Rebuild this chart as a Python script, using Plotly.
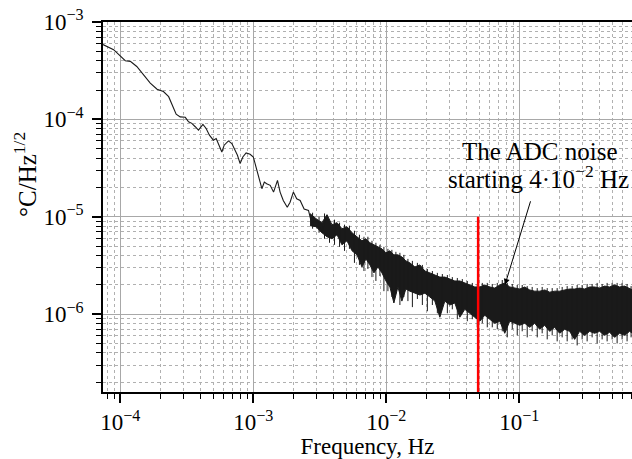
import math
import plotly.graph_objects as go

# Low-frequency part of the spectrum (single trace)
line_f = [7.41e-5, 8.91e-5, 1.09e-4, 1.19e-4, 1.33e-4, 1.50e-4, 1.68e-4, 1.89e-4, 2.11e-4, 2.31e-4,
          2.44e-4, 2.63e-4, 2.82e-4, 3.08e-4, 3.26e-4, 3.45e-4, 3.66e-4, 3.87e-4, 4.18e-4, 4.42e-4,
          4.68e-4, 5.01e-4, 5.26e-4, 5.56e-4, 5.80e-4, 6.04e-4, 6.50e-4, 6.90e-4, 7.30e-4, 7.60e-4,
          7.96e-4, 8.34e-4, 8.83e-4, 9.46e-4, 1.00e-3, 1.06e-3, 1.12e-3, 1.16e-3, 1.21e-3, 1.26e-3,
          1.34e-3, 1.42e-3, 1.52e-3, 1.59e-3, 1.68e-3, 1.80e-3, 1.89e-3, 2.00e-3, 2.12e-3, 2.25e-3,
          2.41e-3, 2.60e-3, 2.75e-3, 3.00e-3, 3.27e-3, 3.57e-3]
line_y = [5.86e-4, 5.20e-4, 4.00e-4, 3.94e-4, 3.49e-4, 2.87e-4, 2.36e-4, 2.04e-4, 1.93e-4, 1.71e-4,
          1.41e-4, 1.13e-4, 1.06e-4, 1.05e-4, 9.45e-5, 9.10e-5, 8.40e-5, 7.75e-5, 8.90e-5, 8.07e-5,
          6.89e-5, 6.11e-5, 6.37e-5, 5.21e-5, 4.62e-5, 5.43e-5, 6.01e-5, 5.65e-5, 4.82e-5, 4.28e-5,
          3.51e-5, 4.11e-5, 4.52e-5, 4.38e-5, 4.11e-5, 3.12e-5, 2.36e-5, 1.94e-5, 2.27e-5, 2.18e-5,
          2.10e-5, 1.79e-5, 2.36e-5, 1.79e-5, 1.47e-5, 1.25e-5, 1.41e-5, 1.79e-5, 1.53e-5, 1.47e-5,
          1.20e-5, 1.16e-5, 8.43e-6, 9.12e-6, 6.90e-6, 1.03e-5]

# Higher-frequency noisy part: upper and lower envelope of the dense trace
band_f = [2.67e-3, 2.96e-3, 3.28e-3, 3.58e-3, 3.90e-3, 4.26e-3, 4.64e-3, 5.06e-3, 5.52e-3, 6.02e-3,
          6.56e-3, 7.03e-3, 7.53e-3, 8.07e-3, 8.65e-3, 9.27e-3, 9.93e-3, 1.064e-2, 1.14e-2, 1.222e-2,
          1.309e-2, 1.403e-2, 1.503e-2, 1.640e-2, 1.788e-2, 1.950e-2, 2.125e-2, 2.317e-2, 2.526e-2, 2.754e-2,
          3.003e-2, 3.273e-2, 3.569e-2, 3.891e-2, 4.242e-2, 4.625e-2, 5.043e-2, 5.498e-2, 5.994e-2, 6.535e-2,
          7.125e-2, 7.768e-2, 8.469e-2, 9.234e-2, 0.1007, 0.1098, 0.1197, 0.1305, 0.1423, 0.1551,
          0.1691, 0.1844, 0.2010, 0.2192, 0.2390, 0.2606, 0.2841, 0.3097, 0.3377, 0.3682,
          0.4014, 0.4376, 0.4772, 0.5203, 0.5672, 0.6184, 0.6743, 0.7100]
band_hi = [1.077e-5, 9.56e-6, 8.69e-6, 1.051e-5, 8.29e-6, 8.69e-6, 7.53e-6, 7.90e-6, 6.85e-6, 6.23e-6,
           5.66e-6, 5.94e-6, 5.40e-6, 5.15e-6, 4.91e-6, 4.68e-6, 4.26e-6, 4.47e-6, 4.06e-6, 4.06e-6,
           3.87e-6, 3.52e-6, 3.36e-6, 3.05e-6, 3.20e-6, 2.77e-6, 2.65e-6, 2.52e-6, 2.40e-6, 2.40e-6,
           2.29e-6, 2.19e-6, 2.19e-6, 2.09e-6, 1.99e-6, 1.90e-6, 1.90e-6, 1.99e-6, 1.90e-6, 1.85e-6,
           1.99e-6, 2.09e-6, 1.90e-6, 1.85e-6, 1.81e-6, 1.90e-6, 1.77e-6, 1.72e-6, 1.72e-6, 1.77e-6,
           1.68e-6, 1.72e-6, 1.72e-6, 1.77e-6, 1.81e-6, 1.81e-6, 1.85e-6, 1.81e-6, 1.90e-6, 1.90e-6,
           1.85e-6, 1.94e-6, 1.90e-6, 1.99e-6, 1.90e-6, 1.94e-6, 1.81e-6, 1.77e-6]
band_lo = [8.09e-6, 7.90e-6, 6.85e-6, 6.23e-6, 5.94e-6, 6.53e-6, 5.15e-6, 5.66e-6, 4.47e-6, 4.06e-6,
           3.05e-6, 3.69e-6, 3.20e-6, 2.65e-6, 3.05e-6, 2.65e-6, 2.19e-6, 1.90e-6, 1.30e-6, 1.90e-6,
           1.36e-6, 1.81e-6, 1.72e-6, 1.64e-6, 1.57e-6, 1.64e-6, 1.50e-6, 1.36e-6, 9.29e-7, 1.36e-6,
           1.24e-6, 1.30e-6, 9.29e-7, 1.12e-6, 1.02e-6, 9.29e-7, 8.45e-7, 9.74e-7, 8.86e-7, 8.05e-7,
           8.45e-7, 6.35e-7, 8.45e-7, 8.05e-7, 7.68e-7, 8.05e-7, 7.32e-7, 8.05e-7, 6.98e-7, 7.68e-7,
           6.65e-7, 7.32e-7, 6.35e-7, 6.98e-7, 6.65e-7, 5.50e-7, 6.65e-7, 6.05e-7, 6.65e-7, 6.35e-7,
           6.65e-7, 6.05e-7, 6.50e-7, 5.77e-7, 6.35e-7, 6.05e-7, 6.65e-7, 6.35e-7]

# Individual noise spikes (frequency, top, bottom) sticking out of the band
spike_f = [2.79e-3, 3.12e-3, 3.43e-3, 3.74e-3, 4.08e-3, 4.45e-3, 4.85e-3, 5.28e-3, 5.76e-3, 6.28e-3,
           6.79e-3, 7.27e-3, 7.80e-3, 8.35e-3, 8.95e-3, 9.59e-3, 1.028e-2, 1.101e-2, 1.180e-2, 1.265e-2,
           1.355e-2, 1.453e-2, 1.570e-2, 1.712e-2, 1.866e-2, 2.035e-2, 2.219e-2, 2.419e-2, 2.637e-2, 2.876e-2,
           3.134e-2, 3.418e-2, 3.726e-2, 4.063e-2, 4.430e-2, 4.829e-2, 5.266e-2, 5.741e-2, 6.259e-2, 6.825e-2,
           7.440e-2, 8.112e-2, 8.845e-2, 9.643e-2, 0.1051, 0.1146, 0.1249, 0.1363, 0.1485, 0.1620,
           0.1766, 0.1925, 0.2099, 0.2289, 0.2495, 0.2721, 0.2966, 0.3234, 0.3526, 0.3845,
           0.4192, 0.4570, 0.4983, 0.5433, 0.5923, 0.6458, 0.6920]
spike_top = [1.10e-5, 1.00e-5, 1.08e-5, 9.11e-6, 9.33e-6, 8.69e-6, 8.29e-6, 8.09e-6, 7.18e-6, 6.53e-6,
             6.23e-6, 6.23e-6, 5.66e-6, 5.40e-6, 5.15e-6, 4.91e-6, 4.68e-6, 4.57e-6, 4.36e-6, 4.26e-6,
             4.06e-6, 3.69e-6, 3.52e-6, 3.36e-6, 3.20e-6, 2.91e-6, 2.77e-6, 2.65e-6, 2.58e-6, 2.52e-6,
             2.40e-6, 2.35e-6, 2.29e-6, 2.19e-6, 2.09e-6, 2.04e-6, 2.09e-6, 2.09e-6, 2.04e-6, 2.09e-6,
             2.24e-6, 2.09e-6, 2.04e-6, 1.99e-6, 1.99e-6, 1.94e-6, 1.90e-6, 1.85e-6, 1.90e-6, 1.85e-6,
             1.85e-6, 1.85e-6, 1.90e-6, 1.94e-6, 1.94e-6, 1.99e-6, 1.99e-6, 2.04e-6, 2.04e-6, 2.09e-6,
             2.04e-6, 2.09e-6, 2.09e-6, 2.09e-6, 2.09e-6, 2.04e-6, 1.94e-6]
spike_bot = [7.53e-6, 6.85e-6, 5.94e-6, 5.40e-6, 5.15e-6, 4.91e-6, 4.46e-6, 4.68e-6, 3.36e-6, 3.20e-6,
             2.77e-6, 2.91e-6, 2.40e-6, 2.19e-6, 2.46e-6, 1.72e-6, 1.72e-6, 1.50e-6, 1.64e-6, 1.24e-6,
             1.50e-6, 1.36e-6, 1.18e-6, 1.43e-6, 1.24e-6, 1.07e-6, 1.24e-6, 1.02e-6, 1.18e-6, 1.02e-6,
             1.12e-6, 8.86e-7, 1.02e-6, 8.45e-7, 8.86e-7, 7.32e-7, 8.05e-7, 7.32e-7, 7.32e-7, 6.98e-7,
             6.66e-7, 5.77e-7, 6.98e-7, 6.05e-7, 6.66e-7, 5.77e-7, 6.66e-7, 5.77e-7, 6.35e-7, 5.50e-7,
             6.05e-7, 5.25e-7, 5.77e-7, 5.25e-7, 5.50e-7, 4.77e-7, 5.50e-7, 5.25e-7, 5.77e-7, 5.00e-7,
             5.50e-7, 5.25e-7, 5.50e-7, 5.00e-7, 5.50e-7, 5.25e-7, 5.77e-7]

# ADC-noise marker
adc_f = 0.049
adc_y = [1.58e-7, 1.0e-5]
arrow_f = 0.078
arrow_y = 2.0e-6

x_tickvals = [1e-4, 1e-3, 1e-2, 1e-1]
x_ticktext = ["10<sup>−4</sup>", "10<sup>−3</sup>", "10<sup>−2</sup>", "10<sup>−1</sup>"]
y_tickvals = [1e-6, 1e-5, 1e-4, 1e-3]
y_ticktext = ["10<sup>−6</sup>", "10<sup>−5</sup>", "10<sup>−4</sup>", "10<sup>−3</sup>"]

FONT = "Liberation Serif, Times New Roman, serif"
INK = "#1a1a1a"

spike_x, spike_y = [], []
for f, t, b in zip(spike_f, spike_top, spike_bot):
    spike_x += [f, f, None]
    spike_y += [t, b, None]

fig = go.Figure()
fig.add_trace(go.Scatter(
    x=band_f + band_f[::-1], y=band_hi + band_lo[::-1],
    mode="lines", fill="toself", fillcolor=INK,
    line=dict(color=INK, width=1), hoverinfo="skip", showlegend=False))
fig.add_trace(go.Scatter(x=spike_x, y=spike_y, mode="lines", connectgaps=False,
                         line=dict(color=INK, width=1), hoverinfo="skip", showlegend=False))
fig.add_trace(go.Scatter(x=line_f, y=line_y, mode="lines",
                         line=dict(color=INK, width=1.1), showlegend=False))
fig.add_trace(go.Scatter(x=[adc_f, adc_f], y=adc_y, mode="lines",
                         line=dict(color="#ff0000", width=2.5), showlegend=False))

# White box behind the label (hides the grid, like the reference)
fig.add_shape(type="rect", xref="paper", yref="paper", x0=0.6656, x1=0.9962, y0=0.5325, y1=0.6868,
              fillcolor="white", line=dict(width=0), layer="between")
fig.add_annotation(x=0.8262, y=0.6489, xref="paper", yref="paper", showarrow=False,
                   xanchor="center", yanchor="middle", text="The ADC noise",
                   font=dict(family=FONT, size=25, color="black"))
fig.add_annotation(x=0.8224, y=0.5812, xref="paper", yref="paper", showarrow=False,
                   xanchor="center", yanchor="middle", text="starting 4·10<sup>−2</sup> Hz",
                   font=dict(family=FONT, size=25, color="black"))
# Arrow pointing into the noise floor
fig.add_annotation(x=math.log10(arrow_f), y=math.log10(arrow_y), xref="x", yref="y",
                   text="", showarrow=True, arrowhead=2, arrowsize=1.2, arrowwidth=1,
                   arrowcolor="black", ax=26, ay=-85, standoff=0)
# Y-axis title
fig.add_annotation(x=0, y=0.5866, xref="paper", yref="paper", xshift=-78,
                   text="°C/Hz<sup>1/2</sup>", textangle=-90, showarrow=False,
                   xanchor="center", yanchor="middle",
                   font=dict(family=FONT, size=25, color="black"))

axis_common = dict(
    type="log", showline=True, linecolor="black", linewidth=1.5, automargin=False,
    ticks="outside", ticklen=9, tickwidth=1.5, tickcolor="black",
    showgrid=True, gridcolor="#a8a8a8", gridwidth=1, ticklabeloverflow="allow",
    tickfont=dict(family=FONT, size=23, color="black"),
    minor=dict(ticks="outside", ticklen=5, tickwidth=1.2, tickcolor="black",
               dtick="D1", showgrid=True, gridcolor="#b0b0b0", griddash="3px,3px", gridwidth=0.8),
    zeroline=False,
)

fig.update_xaxes(**axis_common, range=[-4.13, -0.153], tickvals=x_tickvals, ticktext=x_ticktext,
                 mirror=True,
                 title=dict(text="Frequency, Hz", font=dict(family=FONT, size=23, color="black"),
                            standoff=4))
fig.update_yaxes(**axis_common, range=[-6.8, -3.0], tickvals=y_tickvals, ticktext=y_ticktext,
                 ticklabelstandoff=4)

fig.update_layout(
    width=632, height=459,
    margin=dict(l=103, r=0, t=22, b=67),
    plot_bgcolor="white", paper_bgcolor="white",
    font=dict(family=FONT, color="black"),
)

# remove the default page margin so the figure sits at the window's top-left corner
fig.write_html("out.html", config={"displayModeBar": False},
               post_script="document.body.style.margin='0';document.body.style.overflow='hidden';")
